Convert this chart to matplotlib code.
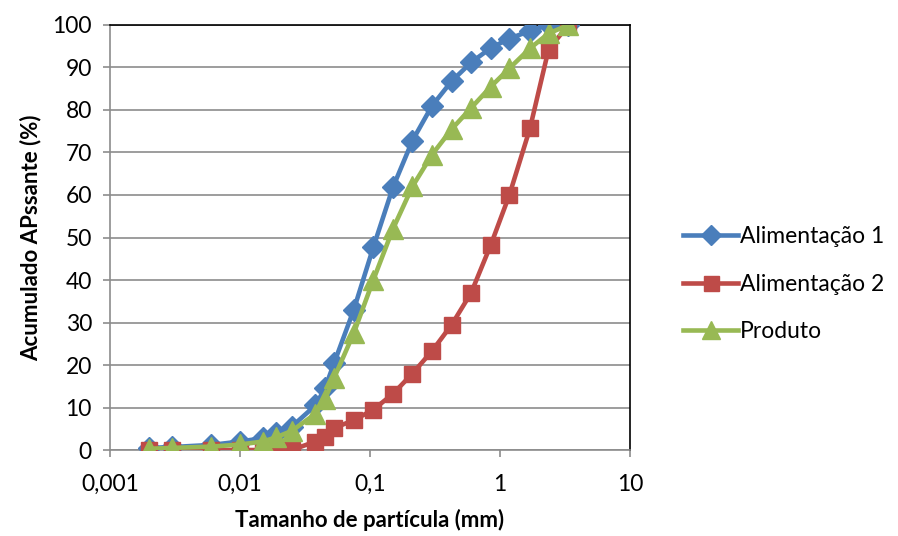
import numpy as np
import matplotlib
matplotlib.use("Agg")
import matplotlib.pyplot as plt
from matplotlib.ticker import FixedLocator, FixedFormatter, NullLocator

# ── Data ──────────────────────────────────────────────────────────────────────
tamanho = [0.002, 0.003, 0.006, 0.01, 0.015, 0.019, 0.025, 0.038, 0.045, 0.053,
           0.075, 0.106, 0.15, 0.212, 0.3, 0.425, 0.6, 0.85, 1.18, 1.7, 2.36, 3.35]

alimentacao_1 = [0.5, 0.7, 1.2, 2.0, 2.8, 4.0, 5.5, 10.5, 14.5, 20.5,
                 33.0, 47.7, 61.8, 72.8, 81.0, 86.8, 91.2, 94.6, 96.8, 98.6, 100.0, 100.0]

alimentacao_2 = [0.0, 0.0, 0.0, 0.0, 0.0, 0.0, 0.0, 2.0, 3.0, 5.2,
                 7.0, 9.5, 13.2, 18.0, 23.3, 29.5, 37.0, 48.3, 60.0, 75.7, 94.2, 100.0]

produto = [0.3, 0.5, 0.8, 1.3, 2.0, 3.0, 4.5, 8.5, 12.0, 17.0,
           27.5, 40.0, 52.0, 62.0, 69.5, 75.5, 80.5, 85.5, 89.8, 94.5, 98.0, 100.0]

series_labels = ["Alimentação 1", "Alimentação 2", "Produto"]
x_ticks = [0.001, 0.01, 0.1, 1, 10]
x_tick_labels = ["0,001", "0,01", "0,1", "1", "10"]
y_ticks = list(range(0, 101, 10))

# ── Plot ──────────────────────────────────────────────────────────────────────
plt.rcParams["font.family"] = ["Lato", "DejaVu Sans"]

fig = plt.figure(figsize=(8.98, 5.36), dpi=100)
ax = fig.add_axes([0.1225, 0.1604, 0.5791, 0.793])

ax.plot(tamanho, alimentacao_1, color="#4A7EBB", lw=3.3, marker="D", ms=11,
        label=series_labels[0], zorder=3)
ax.plot(tamanho, alimentacao_2, color="#BE4B48", lw=3.3, marker="s", ms=12,
        label=series_labels[1], zorder=3)
ax.plot(tamanho, produto, color="#98B954", lw=3.3, marker="^", ms=15,
        label=series_labels[2], zorder=3)

ax.set_xscale("log")
ax.set_xlim(0.001, 10)
ax.set_ylim(0, 100)
ax.xaxis.set_major_locator(FixedLocator(x_ticks))
ax.xaxis.set_major_formatter(FixedFormatter(x_tick_labels))
ax.xaxis.set_minor_locator(NullLocator())
ax.set_yticks(y_ticks)
ax.grid(axis="y", color="#8c8c8c", lw=1.2, zorder=0)

ax.tick_params(axis="both", labelsize=16.5, direction="out", length=5,
               color="#8c8c8c", width=1.2)
ax.tick_params(axis="x", pad=12)
ax.tick_params(axis="y", pad=8)

for side in ("left", "bottom"):
    ax.spines[side].set_color("#8c8c8c")
    ax.spines[side].set_linewidth(1.2)
for side in ("top", "right"):
    ax.spines[side].set_color("#000000")
    ax.spines[side].set_linewidth(1.2)

ax.set_xlabel("Tamanho de partícula (mm)", fontsize=16, fontweight="bold", labelpad=10)
ax.set_ylabel("Acumulado APssante (%)", fontsize=16, fontweight="bold", labelpad=8)

fig.legend(loc="center left", bbox_to_anchor=(0.7606, 0.47), frameon=False,
           fontsize=16.5, handlelength=2.4, handletextpad=0.1, labelspacing=1.15,
           borderaxespad=0, borderpad=0, markerscale=0.9)

fig.savefig("out.png", dpi=100)
